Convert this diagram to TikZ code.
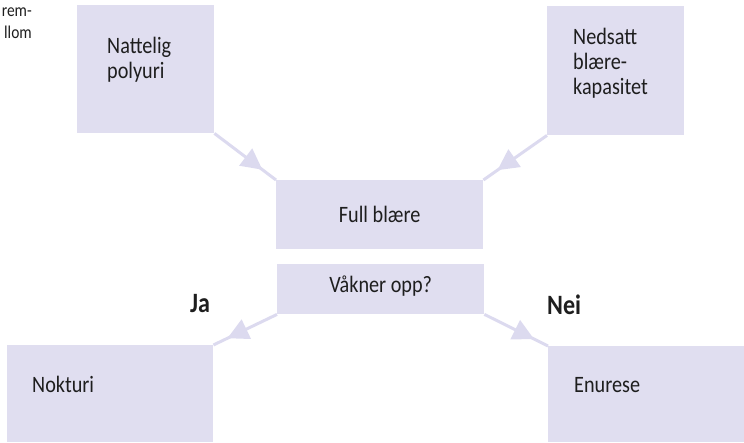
\documentclass[tikz,border=0pt]{standalone}
\usepackage{fontspec}
\setmainfont{Carlito}[FakeStretch=0.86]
\usetikzlibrary{arrows.meta,decorations.markings,positioning}
\definecolor{lilla}{HTML}{E0DEF0}
\definecolor{pil}{HTML}{DCDAEF}
\definecolor{tekst}{HTML}{1E1E1E}

\begin{document}
\begin{tikzpicture}[x=1pt, y=-1pt, font=\fontsize{23.5}{25}\selectfont, text=tekst,
  boks/.style = {fill=lilla, inner sep=0pt, anchor=north west},
  felt/.style = {inner sep=0pt, align=left},
  svar/.style = {inner sep=0pt, anchor=base west, font=\fontsize{28}{30}\selectfont\bfseries},
  flyt/.style = {draw=pil, line width=3pt, postaction={decorate},
    decoration={markings, mark=at position 0.78 with {\arrow{Triangle[length=21pt,width=21pt]}}}}]
  \useasboundingbox (0,0) rectangle (744,442);
  % boksene
  \node[boks, minimum width=137pt, minimum height=128pt] (natt) at (77,5) {};
  \node[boks, minimum width=137pt, minimum height=129pt] (ned) at (547,6) {};
  \node[boks, minimum width=207pt, minimum height=69pt] (full) at (276,180) {Full blære};
  \node[boks, minimum width=207pt, minimum height=50pt, text depth=10.5pt] (vakn) at (277,264) {Våkner opp?};
  \node[boks, minimum width=206pt, minimum height=97pt] (nokt) at (7,345) {};
  \node[boks, minimum width=196pt, minimum height=96pt] (enur) at (548,346) {};
  % tekst i boksene
  \node[felt, anchor=north west] (nattT) at (107,37) {Nattelig\\polyuri};
  \node[felt, anchor=north west] (nedT) at (573,28) {Nedsatt\\blære-\\kapasitet};
  \node[felt, anchor=base west] (noktT) at (32,392) {Nokturi};
  \node[felt, anchor=base west] (enurT) at (574,392) {Enurese};
  \node[felt, anchor=north east, align=right, font=\fontsize{18}{22}\selectfont] (rest) at (32,7.5) {rem-\\llom};
  \node[svar] (ja) at (190,312) {Ja};
  \node[svar] (nei) at (547,314) {Nei};
  % piler
  \draw[flyt] (natt.south east) -- (full.north west);
  \draw[flyt] (ned.south west) -- (full.north east);
  \draw[flyt] (vakn.south west) -- (nokt.north east);
  \draw[flyt] (vakn.south east) -- (enur.north west);
\end{tikzpicture}
\end{document}
